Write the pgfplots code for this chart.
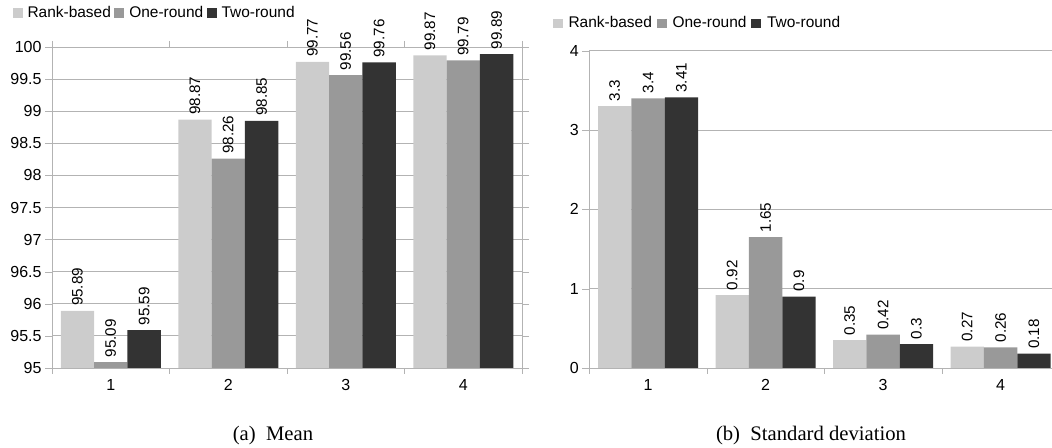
\documentclass[border=0pt]{standalone}
\usepackage{pgfplots}
\pgfplotsset{compat=1.18}
\usepackage{fontspec}
\setmainfont{Liberation Sans}
\newfontfamily\capfont{Liberation Serif}
\definecolor{cLight}{HTML}{CCCCCC}
\definecolor{cMid}{HTML}{999999}
\definecolor{cDark}{HTML}{333333}
\definecolor{cGrid}{HTML}{B3B3B3}
\newcommand\tickfont{\fontsize{12}{14}\selectfont}
\newcommand\valfont{\fontsize{11.4}{13}\selectfont}
\newcommand\legfont{\fontsize{11.6}{13}\selectfont}
\newcommand\captfont{\capfont\fontsize{15.5}{18}\selectfont}
\pgfplotsset{
  mybars/.style={
    scale only axis, anchor=south west,
    width=352.5pt,
    ybar=0pt, bar width=25pt,
    xmin=0.5, xmax=4.5, enlargelimits=false,
    xtick={1,2,3,4},
    minor xtick={0.5,1.5,2.5,3.5,4.5},
    major x tick style={draw=none},
    minor x tick style={draw=cGrid},
    minor tick length=4.5pt,
    major tick length=5.25pt,
    tick align=outside,
    ytick style={draw=cGrid},
    ymajorgrids, grid style={draw=cGrid, line width=0.6pt},
    axis line style={draw=cGrid, line width=0.6pt},
    /pgf/number format/assume math mode=true,
    every tick label/.append style={font=\tickfont},
    yticklabel style={inner xsep=2.4pt},
    xticklabel style={inner ysep=3pt},
    nodes near coords={\pgfmathprintnumber[fixed,precision=2]{\pgfplotspointmeta}},
    every node near coord/.append style={rotate=90, anchor=west, text=black,
      font=\valfont, inner xsep=3.5pt},
    legend columns=3,
    legend image code/.code={\fill[##1] (0pt,-3.6pt) rectangle (7.5pt,3.6pt);},
    legend style={draw=none, fill=none, inner sep=0pt, anchor=west,
      font=\legfont,
      nodes={inner sep=0pt, anchor=west, font=\legfont}},
  }
}
\begin{document}
\begin{tikzpicture}
\begin{axis}[mybars,
  at={(39pt,60pt)}, height=240.75pt,
  ymin=95, ymax=100, ytick={95,95.5,96,96.5,97,97.5,98,98.5,99,99.5,100},
  legend style={at={(-0.0845,1.105)},
    /tikz/every odd column/.append style={column sep=3.75pt},
    /tikz/every even column/.append style={column sep=2.5pt}},
]
\addplot[fill=cLight, draw=none] coordinates {(1,95.89) (2,98.87) (3,99.77) (4,99.87)};
\addplot[fill=cMid, draw=none] coordinates {(1,95.09) (2,98.26) (3,99.56) (4,99.79)};
\addplot[fill=cDark, draw=none] coordinates {(1,95.59) (2,98.85) (3,99.76) (4,99.89)};
\legend{Rank-based,One-round,Two-round}
\end{axis}
\begin{axis}[mybars,
  at={(442pt,60pt)}, height=238pt,
  axis lines*=left,
  ymin=0, ymax=4, ytick={0,1,2,3,4},
  legend style={at={(-0.078,1.086)},
    /tikz/every odd column/.append style={column sep=4.2pt},
    /tikz/every even column/.append style={column sep=3.75pt}},
]
\addplot[fill=cLight, draw=none] coordinates {(1,3.3) (2,0.92) (3,0.35) (4,0.27)};
\addplot[fill=cMid, draw=none] coordinates {(1,3.4) (2,1.65) (3,0.42) (4,0.26)};
\addplot[fill=cDark, draw=none] coordinates {(1,3.41) (2,0.9) (3,0.3) (4,0.18)};
\legend{Rank-based,One-round,Two-round}
\end{axis}
\node[anchor=base, font=\captfont] at (204.75pt,5.5pt) {(a)\enspace Mean};
\node[anchor=base, font=\captfont] at (608.25pt,5.5pt) {(b)\enspace Standard deviation};
\pgfresetboundingbox
\path[use as bounding box] (0,0) rectangle (789pt,336pt);
\end{tikzpicture}
\end{document}
